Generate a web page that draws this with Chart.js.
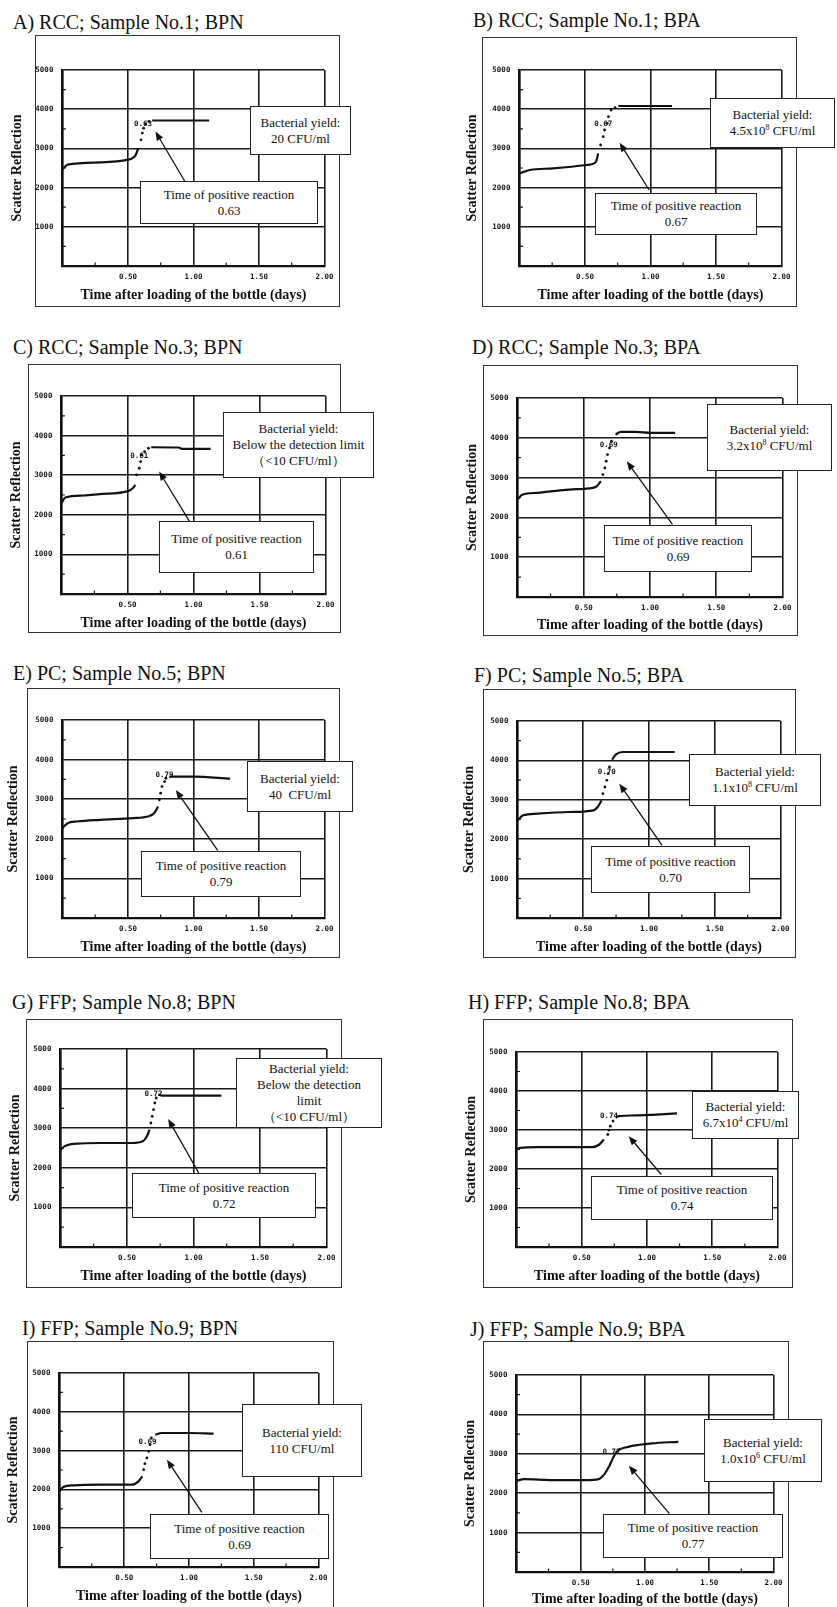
<!DOCTYPE html>
<html>
<head>
<meta charset="utf-8">
<script src="https://cdn.jsdelivr.net/npm/chart.js@4.4.1/dist/chart.umd.min.js"></script>
<style>
body { margin: 0; background: #fff; }
#page { position: relative; width: 837px; height: 1607px; overflow: hidden; }
.title { position: absolute; font: 20px "Liberation Serif", serif; color: #111; white-space: nowrap; line-height: 24px; }
.frame { position: absolute; border: 1.5px solid #333; box-sizing: border-box; }
canvas { position: absolute; z-index: 1; }
.box { position: absolute; box-sizing: border-box; border: 1.5px solid #222; background: #fff; display: flex;
  align-items: center; justify-content: center; text-align: center; font: 13px "Liberation Serif", serif;
  line-height: 16px; color: #111; z-index: 2; white-space: nowrap; }
.box sup { font-size: 8px; line-height: 0; vertical-align: 5px; }
</style>
</head>
<body>
<div id="page"></div>
<script>
// panel titles and texts
const titles = ['A) RCC; Sample No.1; BPN', 'B) RCC; Sample No.1; BPA', 'C) RCC; Sample No.3; BPN', 'D) RCC; Sample No.3; BPA',
  'E) PC; Sample No.5; BPN', 'F) PC; Sample No.5; BPA', 'G) FFP; Sample No.8; BPN', 'H) FFP; Sample No.8; BPA',
  'I) FFP; Sample No.9; BPN', 'J) FFP; Sample No.9; BPA'];
const yields = ['20 CFU/ml', '4.5x10<sup>8</sup> CFU/ml', 'Below the detection limit<br>\uff08<10 CFU/ml\uff09',
  '3.2x10<sup>8</sup> CFU/ml', '40&nbsp; CFU/ml', '1.1x10<sup>8</sup> CFU/ml',
  'Below the detection<br>limit<br>\uff08<10 CFU/ml\uff09', '6.7x10<sup>4</sup> CFU/ml', '110 CFU/ml', '1.0x10<sup>6</sup> CFU/ml'];
const reactionTimes = ['0.63', '0.67', '0.61', '0.69', '0.79', '0.70', '0.72', '0.74', '0.69', '0.77'];

const xTitle = 'Time after loading of the bottle (days)';
const yTitle = 'Scatter Reflection';
const xTickVals = [0.5, 1, 1.5, 2];
const xTickText = ['0.50', '1.00', '1.50', '2.00'];
const yTickVals = [1000, 2000, 3000, 4000, 5000];
const yTickText = ['1000', '2000', '3000', '4000', '5000'];

// curves: [days, scatter reflection]; base = before rise, rise = sparse readings, plat = plateau
const baseA = [[0,2460],[0.04,2585],[0.29,2644],[0.50,2712],[0.535,2754],[0.56,2839],[0.58,3008]];
const riseA = [[0.60,3220],[0.61,3390],[0.62,3517],[0.635,3627],[0.66,3686]];
const platA = [[0.685,3712],[1.12,3712]];

const baseB = [[0,2364],[0.08,2449],[0.26,2491],[0.51,2577],[0.57,2619],[0.59,2704],[0.60,2874]];
const riseB = [[0.62,3087],[0.64,3299],[0.65,3469],[0.67,3639],[0.68,3810],[0.70,3980],[0.73,4039]];
const platB = [[0.755,4082],[1.165,4082]];

const baseC = [[0,2294],[0.03,2437],[0.17,2487],[0.29,2521],[0.51,2605],[0.54,2672],[0.56,2756]];
const riseC = [[0.57,3008],[0.59,3176],[0.60,3345],[0.61,3513],[0.63,3597],[0.66,3681]];
const platC = [[0.68,3706],[0.89,3700],[0.91,3664],[1.13,3664]];

const baseD = [[0,2450],[0.04,2575],[0.15,2617],[0.39,2700],[0.57,2742],[0.60,2784],[0.63,2910]];
const riseD = [[0.645,3077],[0.66,3244],[0.67,3411],[0.68,3579],[0.695,3746],[0.71,3913]];
const platD = [[0.74,4080],[0.78,4147],[0.89,4147],[1.01,4122],[1.19,4122]];

const baseE = [[0,2269],[0.04,2395],[0.11,2437],[0.29,2479],[0.54,2521],[0.65,2563],[0.70,2647],[0.73,2815]];
const riseE = [[0.74,2983],[0.75,3151],[0.76,3319],[0.78,3445],[0.79,3529]];
const platE = [[0.815,3571],[1.0,3571],[1.28,3520]];

const baseF = [[0,2479],[0.045,2606],[0.15,2648],[0.40,2690],[0.58,2733],[0.61,2817],[0.64,2986]];
const riseF = [[0.65,3156],[0.665,3325],[0.68,3494],[0.69,3663],[0.70,3832]];
const platF = [[0.72,4019],[0.75,4154],[0.80,4213],[1.195,4213]];

const baseG = [[0,2441],[0.03,2542],[0.12,2609],[0.30,2626],[0.54,2626],[0.62,2668],[0.65,2795],[0.67,2963]];
const riseG = [[0.68,3131],[0.69,3300],[0.70,3468],[0.71,3636],[0.72,3763]];
const platG = [[0.735,3847],[0.765,3822],[1.21,3822]];

const baseH = [[0,2500],[0.03,2543],[0.16,2560],[0.58,2560],[0.635,2628],[0.67,2757]];
const riseH = [[0.70,2885],[0.71,2997],[0.72,3099],[0.74,3228]];
const platH = [[0.76,3313],[0.785,3356],[0.91,3373],[1.04,3390],[1.23,3425]];

const baseI = [[0,1950],[0.03,2062],[0.11,2105],[0.31,2122],[0.56,2122],[0.61,2208],[0.64,2337]];
const riseI = [[0.65,2509],[0.66,2663],[0.675,2809],[0.69,2981],[0.70,3153],[0.71,3325]];
const platI = [[0.74,3411],[0.79,3454],[1.0,3454],[1.19,3436]];

const baseJ = [[0,2314],[0.06,2356],[0.29,2331],[0.54,2331],[0.64,2356],[0.68,2458]];
const riseJ = [[0.72,2669],[0.75,2881],[0.78,3051]];
const platJ = [[0.82,3136],[0.90,3203],[1.05,3263],[1.26,3305]];

const bases = [baseA, baseB, baseC, baseD, baseE, baseF, baseG, baseH, baseI, baseJ];
const rises = [riseA, riseB, riseC, riseD, riseE, riseF, riseG, riseH, riseI, riseJ];
const plats = [platA, platB, platC, platD, platE, platF, platG, platH, platI, platJ];

// layout of each panel (page pixels) and annotation anchors (data units)
const panels = [
  {frame:[35,35,340,307], plot:[62,70,329,266], title:[13,22], yt:17, yieldBox:[250,106,351,155], timeBox:[140,181,318,224], label:[0.615,3627], tail:[0.934,2161], tip:[0.71,3432]},
  {frame:[482,37,797,307], plot:[519,70,787,266], title:[473,20], yt:472, yieldBox:[710,98,835,148], timeBox:[595,193,757,235], label:[0.64,3622], tail:[0.99,1939], tip:[0.765,3146]},
  {frame:[28,364,341,633], plot:[61,396,327,594], title:[13,347], yt:16, yieldBox:[223,412,374,478], timeBox:[159,521,314,573], label:[0.59,3496], tail:[0.97,1832], tip:[0.74,3092]},
  {frame:[483,365,798,636], plot:[517,398,787,597], title:[472,347], yt:472, xGap:28, yieldBox:[707,404,832,471], timeBox:[604,525,752,572], label:[0.69,3829], tail:[1.17,1823], tip:[0.825,3411]},
  {frame:[27,688,340,958], plot:[62,720,328,918], title:[13,673], yt:13, yieldBox:[247,761,353,812], timeBox:[141,851,301,897], label:[0.78,3613], tail:[1.185,1706], tip:[0.865,3235]},
  {frame:[483,689,796,958], plot:[517,721,781,918], title:[474,675], yt:469, yieldBox:[689,754,821,806], timeBox:[591,846,750,893], label:[0.68,3706], tail:[1.10,1844], tip:[0.775,3409]},
  {frame:[26,1019,342,1288], plot:[60,1049,330,1247], title:[12,1002], yt:15, yieldBox:[236,1058,382,1128], timeBox:[132,1173,316,1218], label:[0.70,3872], tail:[1.04,1869], tip:[0.81,3232]},
  {frame:[483,1019,793,1288], plot:[516,1052,781,1247], title:[468,1002], yt:471, yieldBox:[692,1091,799,1139], timeBox:[591,1176,773,1220], label:[0.71,3356], tail:[1.11,1858], tip:[0.86,2842]},
  {frame:[27,1341,334,1612], plot:[59,1373,323,1567], title:[22,1328], yt:13, yieldBox:[242,1404,362,1477], timeBox:[150,1514,329,1559], label:[0.68,3222], tail:[1.10,1409], tip:[0.83,2766]},
  {frame:[483,1341,789,1612], plot:[516,1375,778,1572], title:[470,1329], yt:470, xGap:27, yieldBox:[704,1419,822,1482], timeBox:[603,1514,783,1558], label:[0.74,3034], tail:[1.19,1483], tip:[0.875,2695], solidRise:true}
];

const ink = '#111';
const tickFont = {family: 'DejaVu Sans Mono', size: 7.5, weight: 'bold'};
const axisTitleFont = {family: 'Liberation Serif', size: 14, weight: 'bold'};

function toXY(arr) {
  return arr.map(p => ({x: p[0], y: p[1]}));
}
function isMajorX(v) { return Math.abs(v * 2 - Math.round(v * 2)) < 1e-6; }
function isMajorY(v) { return Math.abs(v % 1000) < 1e-6; }
function lookup(vals, texts, v) {
  const k = vals.findIndex(t => Math.abs(t - v) < 1e-6);
  return k < 0 ? '' : texts[k];
}

const marks = {
  id: 'marks',
  afterDraw(chart, args, o) {
    const {ctx, scales: {x, y}} = chart;
    ctx.save();
    ctx.strokeStyle = ink;
    ctx.lineWidth = 1.2;
    ctx.beginPath();
    x.ticks.forEach(t => {
      if (!isMajorX(t.value)) {
        const px = x.getPixelForValue(t.value);
        ctx.moveTo(px, y.bottom); ctx.lineTo(px, y.bottom - 3.5);
      }
    });
    y.ticks.forEach(t => {
      if (!isMajorY(t.value)) {
        const py = y.getPixelForValue(t.value);
        ctx.moveTo(x.left, py); ctx.lineTo(x.left + 3.5, py);
      }
    });
    ctx.stroke();

    // reaction label near the curve
    ctx.font = 'bold 7.5px "DejaVu Sans Mono"';
    ctx.fillStyle = ink;
    ctx.textAlign = 'center';
    ctx.textBaseline = 'middle';
    ctx.fillText(o.text, x.getPixelForValue(o.label[0]), y.getPixelForValue(o.label[1]));

    // arrow from the box to the curve
    const x1 = x.getPixelForValue(o.tail[0]), y1 = y.getPixelForValue(o.tail[1]);
    const x2 = x.getPixelForValue(o.tip[0]), y2 = y.getPixelForValue(o.tip[1]);
    const a = Math.atan2(y2 - y1, x2 - x1);
    const hl = 9, hw = 3.6;
    const bx = x2 - hl * Math.cos(a), by = y2 - hl * Math.sin(a);
    ctx.lineWidth = 1.3;
    ctx.beginPath();
    ctx.moveTo(x1, y1); ctx.lineTo(bx, by);
    ctx.stroke();
    ctx.beginPath();
    ctx.moveTo(x2, y2);
    ctx.lineTo(bx + hw * Math.sin(a), by - hw * Math.cos(a));
    ctx.lineTo(bx - hw * Math.sin(a), by + hw * Math.cos(a));
    ctx.closePath();
    ctx.fill();
    ctx.restore();
  }
};

const page = document.getElementById('page');

function addBox(r, html) {
  const d = document.createElement('div');
  d.className = 'box';
  d.style.left = r[0] + 'px'; d.style.top = r[1] + 'px';
  d.style.width = (r[2] - r[0]) + 'px'; d.style.height = (r[3] - r[1]) + 'px';
  d.innerHTML = '<div>' + html + '</div>';
  page.appendChild(d);
}

panels.forEach((p, i) => {
  const [fl, ft, fr, fb] = p.frame;
  const [pl, pt, pr, pb] = p.plot;
  const xGap = p.xGap || 29;

  const t = document.createElement('div');
  t.className = 'title';
  t.textContent = titles[i];
  t.style.left = p.title[0] + 'px';
  t.style.top = (p.title[1] - 12) + 'px';
  page.appendChild(t);

  const f = document.createElement('div');
  f.className = 'frame';
  f.style.left = fl + 'px'; f.style.top = ft + 'px';
  f.style.width = (fr - fl) + 'px'; f.style.height = (fb - ft) + 'px';
  page.appendChild(f);

  const half = axisTitleFont.size * 1.2 / 2;
  const cl = p.yt - half - 2;
  const cb = pb + xGap + 14;   // canvas bottom, below the axis title
  const cw = fr - cl, ch = cb - ft;
  const canvas = document.createElement('canvas');
  canvas.width = cw; canvas.height = ch;
  canvas.style.left = cl + 'px'; canvas.style.top = ft + 'px';
  page.appendChild(canvas);

  const lineStyle = {borderColor: ink, borderWidth: 2.2, pointRadius: 0, cubicInterpolationMode: 'monotone', fill: false};
  const riseData = p.solidRise ? [bases[i][bases[i].length - 1]].concat(rises[i], [plats[i][0]]) : rises[i];
  const riseSet = p.solidRise
    ? Object.assign({data: toXY(riseData)}, lineStyle)
    : {data: toXY(riseData), showLine: false, pointRadius: 1.4, pointBackgroundColor: ink, pointBorderWidth: 0};

  new Chart(canvas.getContext('2d'), {
    type: 'line',
    data: {
      datasets: [
        Object.assign({data: toXY(bases[i])}, lineStyle),
        riseSet,
        Object.assign({data: toXY(plats[i])}, lineStyle)
      ]
    },
    options: {
      responsive: false,
      animation: false,
      layout: {padding: {left: 0, top: pt - ft, right: fr - pr, bottom: 0}},
      plugins: {
        legend: {display: false},
        tooltip: {enabled: false},
        marks: {text: reactionTimes[i], label: p.label, tail: p.tail, tip: p.tip}
      },
      scales: {
        x: {
          type: 'linear', min: 0, max: 2,
          ticks: {stepSize: 0.25, autoSkip: false, maxRotation: 0, padding: 6.5, color: ink, font: tickFont,
            callback: v => lookup(xTickVals, xTickText, v)},
          grid: {drawTicks: false, lineWidth: 1.6, color: c => (c.tick && isMajorX(c.tick.value)) ? '#1a1a1a' : 'rgba(0,0,0,0)'},
          border: {color: ink, width: 2.2},
          title: {display: true, text: xTitle, color: ink, font: axisTitleFont,
            padding: {top: 0, bottom: cb - pb - xGap - half}},
          afterFit: s => { s.height = cb - pb; }
        },
        y: {
          type: 'linear', min: 0, max: 5000,
          ticks: {stepSize: 500, autoSkip: false, padding: 9, color: ink, font: tickFont,
            callback: v => lookup(yTickVals, yTickText, v)},
          grid: {drawTicks: false, lineWidth: 1.6, color: c => (c.tick && isMajorY(c.tick.value)) ? '#1a1a1a' : 'rgba(0,0,0,0)'},
          border: {color: ink, width: 2.2},
          title: {display: true, text: yTitle, color: ink, font: axisTitleFont, padding: {top: 2, bottom: 0}},
          afterFit: s => { s.width = pl - cl; }
        }
      }
    },
    plugins: [marks]
  });

  addBox(p.yieldBox, 'Bacterial yield:<br>' + yields[i]);
  addBox(p.timeBox, 'Time of positive reaction<br>' + reactionTimes[i]);
});
</script>
</body>
</html>
